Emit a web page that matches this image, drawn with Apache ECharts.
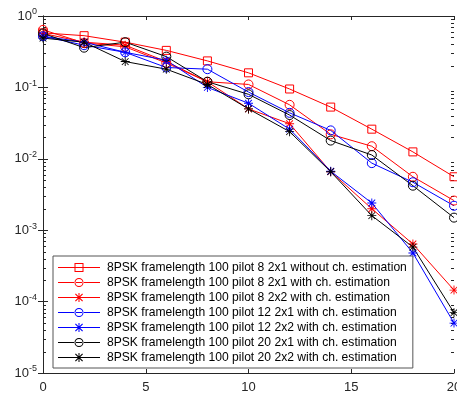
<!DOCTYPE html>
<html>
<head>
<meta charset="utf-8">
<script src="https://cdn.jsdelivr.net/npm/echarts@6/dist/echarts.min.js"></script>
<style>
  html, body { margin: 0; padding: 0; background: #fff; }
  #chart { width: 457px; height: 394px; }
</style>
</head>
<body>
<div id="chart"></div>
<script>
// SNR points (x axis)
const snr = [0, 2, 4, 6, 8, 10, 12, 14, 16, 18, 20]

// BER curves
const p8_2x1_noEst = [0.58, 0.53, 0.43, 0.33, 0.235, 0.16, 0.095, 0.053, 0.026, 0.0125, 0.0056]
const p8_2x1 = [0.64, 0.42, 0.37, 0.22, 0.12, 0.11, 0.057, 0.022, 0.015, 0.0056, 0.0026]
const p8_2x2 = [0.57, 0.43, 0.39, 0.23, 0.12, 0.05, 0.031, 0.0066, 0.002, 0.00064, 0.000145]
const p12_2x1 = [0.52, 0.39, 0.31, 0.19, 0.18, 0.086, 0.044, 0.025, 0.0087, 0.0047, 0.0022]
const p12_2x2 = [0.52, 0.43, 0.31, 0.24, 0.1, 0.06, 0.026, 0.0067, 0.0024, 0.00048, 0.00005]
const p20_2x1 = [0.57, 0.36, 0.43, 0.27, 0.12, 0.08, 0.041, 0.018, 0.0113, 0.0042, 0.0015]
const p20_2x2 = [0.49, 0.43, 0.23, 0.18, 0.11, 0.05, 0.024, 0.0066, 0.0016, 0.00058, 0.00007]

const names = [
  '8PSK framelength 100 pilot 8 2x1 without ch. estimation',
  '8PSK framelength 100 pilot 8 2x1 with ch. estimation',
  '8PSK framelength 100 pilot 8 2x2 with ch. estimation',
  '8PSK framelength 100 pilot 12 2x1 with ch. estimation',
  '8PSK framelength 100 pilot 12 2x2 with ch. estimation',
  '8PSK framelength 100 pilot 20 2x1 with ch. estimation',
  '8PSK framelength 100 pilot 20 2x2 with ch. estimation'
]
const colors = ['#ff0000', '#ff0000', '#ff0000', '#0000ff', '#0000ff', '#000000', '#000000']
const markers = ['square', 'circle', 'star', 'circle', 'star', 'circle', 'star']

// log axis minor ticks (2..9 per decade)
const minorMult = [2, 3, 4, 5, 6, 7, 8, 9]
const decades = [-5, -4, -3, -2, -1]

const AXIS = '#262626'
const FONT = 'Liberation Sans, Arial, sans-serif'

// MATLAB-like asterisk for the plot
const STAR = 'path://M4.5 0L5.5 0L5.5 10L4.5 10Z M0 4.5L10 4.5L10 5.5L0 5.5Z M0.9 1.6L1.6 0.9L9.1 8.4L8.4 9.1Z M8.4 0.9L9.1 1.6L1.6 9.1L0.9 8.4Z'
const SYM = { square: 'rect', circle: 'circle', star: STAR }

// legend icons: line + marker in a 42x9 box
const BAR = 'M0 4L42 4L42 5L0 5Z'
const LEG = {
  square: 'path://' + BAR + ' M16.5 0L25.5 0L25.5 9L16.5 9Z M17.5 1L17.5 8L24.5 8L24.5 1Z',
  circle: 'path://' + BAR + ' M16.5 4.5A4.5 4.5 0 1 0 25.5 4.5A4.5 4.5 0 1 0 16.5 4.5Z M17.5 4.5A3.5 3.5 0 1 1 24.5 4.5A3.5 3.5 0 1 1 17.5 4.5Z',
  star: 'path://' + BAR + ' M20.5 0L21.5 0L21.5 9L20.5 9Z M17 1.3L17.8 0.5L25 7.7L24.2 8.5Z M24.2 0.5L25 1.3L17.8 8.5L17 7.7Z'
}

const mk = (i, data) => ({
  name: names[i],
  type: 'line',
  data: snr.map((x, k) => [x, data[k]]),
  color: colors[i],
  symbol: SYM[markers[i]],
  symbolSize: markers[i] === 'square' ? 8 : 9,
  showAllSymbol: true,
  clip: false,
  z: 3,
  lineStyle: { color: colors[i], width: 1 },
  itemStyle: markers[i] === 'star'
    ? { color: colors[i], borderWidth: 0 }
    : { color: 'transparent', borderColor: colors[i], borderWidth: 1 },
  emphasis: { disabled: true }
})

const minorData = []
decades.forEach(d => minorMult.forEach(m => minorData.push([0, m * Math.pow(10, d)])))

const expLabel = v => {
  const e = Math.round(Math.log10(v))
  return '{a|10}{b|' + e + '}'
}

const chart = echarts.init(document.getElementById('chart'), null, { renderer: 'canvas' })

chart.setOption({
  animation: false,
  backgroundColor: '#fff',
  grid: { left: 43, right: 3, top: 16, bottom: 21, containLabel: false, outerBoundsMode: 'none' },
  xAxis: [
    {
      type: 'value', min: 0, max: 20, interval: 5,
      axisLine: { show: true, lineStyle: { color: AXIS, width: 1 } },
      axisTick: { inside: true, length: 4, lineStyle: { color: AXIS } },
      axisLabel: { color: AXIS, fontSize: 13, fontFamily: FONT, margin: 8 },
      splitLine: { show: false }
    },
    {
      type: 'value', min: 0, max: 20, interval: 5, position: 'top',
      axisLine: { show: true, lineStyle: { color: AXIS, width: 1 } },
      axisTick: { inside: true, length: 4, lineStyle: { color: AXIS } },
      axisLabel: { show: false },
      splitLine: { show: false }
    }
  ],
  yAxis: [
    {
      type: 'log', logBase: 10, min: 1e-5, max: 1,
      axisLine: { show: true, lineStyle: { color: AXIS, width: 1 } },
      axisTick: { inside: true, length: 5, lineStyle: { color: AXIS } },
      axisLabel: {
        formatter: expLabel, margin: 6,
        rich: {
          a: { color: AXIS, fontSize: 13, fontFamily: FONT },
          b: { color: AXIS, fontSize: 9, fontFamily: FONT, padding: [0, 0, 8, 0] }
        }
      },
      splitLine: { show: false }
    },
    {
      type: 'log', logBase: 10, min: 1e-5, max: 1, position: 'right',
      axisLine: { show: true, lineStyle: { color: AXIS, width: 1 } },
      axisTick: { inside: true, length: 5, lineStyle: { color: AXIS } },
      axisLabel: { show: false },
      splitLine: { show: false }
    }
  ],
  legend: {
    orient: 'vertical',
    left: 53, top: 256,
    padding: [5, 6, 4, 5],
    itemWidth: 42, itemHeight: 9, itemGap: 2,
    selectedMode: false,
    backgroundColor: '#fff',
    borderColor: '#555',
    borderWidth: 1,
    textStyle: { color: '#000', fontSize: 12.1, lineHeight: 13, fontFamily: FONT, padding: [0, 0, 0, 2] },
    data: names.map((n, i) => ({
      name: n,
      icon: LEG[markers[i]],
      itemStyle: { color: colors[i], borderWidth: 0 }
    }))
  },
  series: [
    mk(0, p8_2x1_noEst),
    mk(1, p8_2x1),
    mk(2, p8_2x2),
    mk(3, p12_2x1),
    mk(4, p12_2x2),
    mk(5, p20_2x1),
    mk(6, p20_2x2),
    {
      type: 'custom',
      silent: true,
      z: 2,
      data: minorData,
      renderItem: (params, api) => {
        const cs = params.coordSys
        const y = Math.round(api.coord([0, api.value(1)])[1]) + 0.5
        const st = { stroke: AXIS, lineWidth: 1 }
        return {
          type: 'group',
          children: [
            { type: 'line', shape: { x1: cs.x, y1: y, x2: cs.x + 3, y2: y }, style: st },
            { type: 'line', shape: { x1: cs.x + cs.width - 3, y1: y, x2: cs.x + cs.width, y2: y }, style: st }
          ]
        }
      }
    }
  ]
})
</script>
</body>
</html>
